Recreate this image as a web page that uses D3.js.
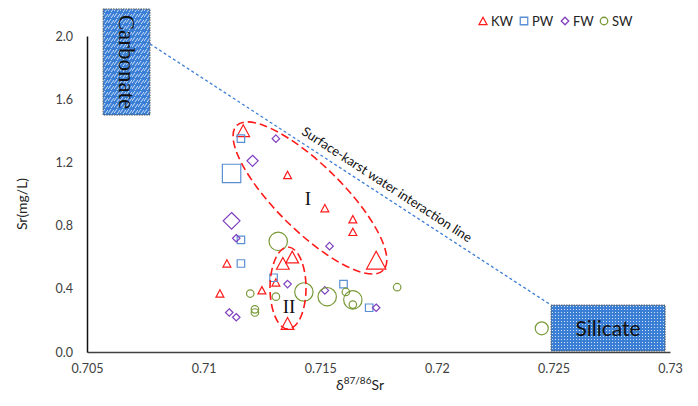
<!DOCTYPE html>
<html>
<head>
<meta charset="utf-8">
<script src="https://cdn.jsdelivr.net/npm/d3@7"></script>
<style>
  html, body { margin: 0; padding: 0; background: #fff; }
  #chart { width: 698px; height: 406px; }
  svg { font-family: Lato, "Open Sans", sans-serif; }
</style>
</head>
<body>
<div id="chart"></div>
<script>
// ---- data ----
// marker size: relative magnitude (1 = small, ~2.6 = medium, ~6 = large)
const kwX = [0.7117, 0.7136, 0.7152, 0.7164, 0.7164, 0.7174, 0.7138, 0.7134, 0.7110, 0.7131, 0.7125, 0.7107, 0.7136];
const kwY = [1.40, 1.12, 0.91, 0.84, 0.76, 0.58, 0.60, 0.56, 0.56, 0.44, 0.39, 0.37, 0.18];
const kwS = [2.6, 1, 1, 1, 1, 6, 2.6, 2.6, 1, 1, 1, 1, 2.6];

const pwX = [0.7116, 0.7112, 0.7116, 0.7116, 0.7130, 0.7160, 0.7171];
const pwY = [1.35, 1.13, 0.71, 0.56, 0.47, 0.43, 0.28];
const pwS = [1, 6, 1, 1, 1, 1, 1];

const fwX = [0.7131, 0.7121, 0.7112, 0.7114, 0.7154, 0.7136, 0.7152, 0.7174, 0.7111, 0.7114];
const fwY = [1.35, 1.21, 0.83, 0.72, 0.67, 0.43, 0.39, 0.28, 0.25, 0.22];
const fwS = [1, 2.2, 5, 1, 1, 1, 1, 1, 1, 1];

const swX = [0.7132, 0.7120, 0.7131, 0.7143, 0.7153, 0.7161, 0.7164, 0.7164, 0.7183, 0.7122, 0.7122, 0.7245];
const swY = [0.70, 0.37, 0.35, 0.38, 0.35, 0.38, 0.33, 0.30, 0.41, 0.27, 0.25, 0.15];
const swS = [6, 1, 1, 6, 6, 1, 6, 1, 1, 1, 1, 3];

const seriesNames = ['KW', 'PW', 'FW', 'SW'];
const xTicks = [0.705, 0.71, 0.715, 0.72, 0.725, 0.73];
const yTicks = [0, 0.4, 0.8, 1.2, 1.6, 2.0];

// end members and mixing line
const carbonateBox = [[0.70569, 2.171], [0.7077, 1.50]];
const silicateBox = [[0.7249, 0.297], [0.72979, 0.006]];
const mixLine = [[0.7077, 1.95], [0.7249, 0.297]];

// group ellipses: centre in data units
const groupI = { cx: 0.71456, cy: 0.975, label: 'I' };
const groupII = { cx: 0.71362, cy: 0.405, label: 'II' };

(function () {
  const W = 698, H = 406;
  const margin = { top: 36, right: 28, bottom: 54, left: 87 };
  const SERIF = '"Liberation Serif", "DejaVu Serif", serif';
  const COLORS = {
    KW: '#ff1a1a', PW: '#5b8fd3', FW: '#7f3fbf', SW: '#7a9a3a',
    axis: '#404040', text: '#404040', line: '#3f7fd6', box: '#3a7fd5'
  };

  const svg = d3.select('#chart').append('svg')
    .attr('width', W).attr('height', H).attr('viewBox', `0 0 ${W} ${H}`);

  const defs = svg.append('defs');
  const hatch = defs.append('pattern').attr('id', 'hatch').attr('patternUnits', 'userSpaceOnUse')
    .attr('width', 6).attr('height', 6);
  hatch.append('rect').attr('width', 6).attr('height', 6).attr('fill', COLORS.box);
  hatch.append('path').attr('d', 'M0,5 L3,1 M3,6 L6,2').attr('stroke', '#dce9f8').attr('stroke-width', 0.9);
  const dots = defs.append('pattern').attr('id', 'dots').attr('patternUnits', 'userSpaceOnUse')
    .attr('width', 3).attr('height', 3);
  dots.append('rect').attr('width', 3).attr('height', 3).attr('fill', COLORS.box);
  dots.append('rect').attr('width', 1).attr('height', 1).attr('fill', '#cfe0f5');

  const x = d3.scaleLinear().domain([0.705, 0.73]).range([margin.left, W - margin.right]);
  const y = d3.scaleLinear().domain([0, 2.0]).range([H - margin.bottom, margin.top]);

  // ---- axes ----
  const xAxisG = svg.append('g').attr('transform', `translate(0,${y(0)})`)
    .call(d3.axisBottom(x).tickValues(xTicks).tickSize(0).tickPadding(12)
      .tickFormat(d => String(+d.toFixed(3))));
  const yAxisG = svg.append('g').attr('transform', `translate(${x(0.705)},0)`)
    .call(d3.axisLeft(y).tickValues(yTicks).tickSize(0).tickPadding(14).tickFormat(d3.format('.1f')));
  [xAxisG, yAxisG].forEach(a => {
    a.attr('font-family', null);
    a.selectAll('text').attr('fill', COLORS.text).attr('font-size', '12.5px');
    a.select('.domain').attr('stroke', COLORS.axis).attr('stroke-width', 1.5);
  });
  yAxisG.select('.domain').attr('stroke', '#111');

  const xt = svg.append('text').attr('x', 360).attr('y', 390).attr('text-anchor', 'middle')
    .attr('fill', '#222').attr('font-size', '14px');
  xt.append('tspan').text('δ');
  xt.append('tspan').attr('dy', -6).attr('font-size', '10px').text('87/86');
  xt.append('tspan').attr('dy', 6).text('Sr');

  svg.append('text').attr('transform', 'translate(27,204) rotate(-90)').attr('text-anchor', 'middle')
    .attr('fill', '#222').attr('font-size', '14px').text('Sr(mg/L)');

  // ---- end-member boxes ----
  const boxRect = (b, fill) => svg.append('rect')
    .attr('x', x(b[0][0])).attr('y', y(b[0][1]))
    .attr('width', x(b[1][0]) - x(b[0][0])).attr('height', y(b[1][1]) - y(b[0][1]))
    .attr('fill', fill).attr('stroke', '#555').attr('stroke-width', 1).attr('stroke-dasharray', '1.5,1');
  boxRect(carbonateBox, 'url(#hatch)');
  boxRect(silicateBox, 'url(#dots)');

  const cbx = (x(carbonateBox[0][0]) + x(carbonateBox[1][0])) / 2;
  const cby = (y(carbonateBox[0][1]) + y(carbonateBox[1][1])) / 2;
  svg.append('text').attr('transform', `translate(${cbx},${cby}) rotate(90)`)
    .attr('text-anchor', 'middle').attr('dy', '0.33em')
    .attr('font-family', SERIF).attr('font-size', '23px').attr('fill', '#111')
    .text('Carbonate');
  const sbx = (x(silicateBox[0][0]) + x(silicateBox[1][0])) / 2;
  const sby = (y(silicateBox[0][1]) + y(silicateBox[1][1])) / 2;
  svg.append('text').attr('x', sbx).attr('y', sby).attr('dy', '0.36em').attr('text-anchor', 'middle')
    .attr('font-size', '21px').attr('fill', '#111').text('Silicate');

  // ---- mixing line ----
  svg.append('path').datum(mixLine)
    .attr('d', d3.line().x(d => x(d[0])).y(d => y(d[1])))
    .attr('fill', 'none').attr('stroke', COLORS.line).attr('stroke-width', 1.3).attr('stroke-dasharray', '3,2.5');
  const lx0 = x(mixLine[0][0]), ly0 = y(mixLine[0][1]), lx1 = x(mixLine[1][0]), ly1 = y(mixLine[1][1]);
  const ang = Math.atan2(ly1 - ly0, lx1 - lx0) * 180 / Math.PI;
  const t = 0.575;
  svg.append('text')
    .attr('transform', `translate(${lx0 + (lx1 - lx0) * t},${ly0 + (ly1 - ly0) * t}) rotate(${ang}) translate(0,-7)`)
    .attr('text-anchor', 'middle').attr('font-size', '13px').attr('fill', '#111')
    .text('Surface-karst water interaction line');

  // ---- marker shapes ----
  const size = d3.scaleSqrt().domain([0, 1]).range([0, 7.5]);
  function shape(type, w) {
    const h = w / 2;
    if (type === 'KW') return `M0,${-h}L${h * 1.05},${h * 0.95}L${-h * 1.05},${h * 0.95}Z`;
    if (type === 'PW') return `M${-h},${-h}H${h}V${h}H${-h}Z`;
    if (type === 'FW') return `M0,${-h}L${h},0L0,${h}L${-h},0Z`;
    return d3.arc()({ innerRadius: 0, outerRadius: h, startAngle: 0, endAngle: 2 * Math.PI });
  }

  const series = [
    { name: 'KW', xs: kwX, ys: kwY, ss: kwS },
    { name: 'PW', xs: pwX, ys: pwY, ss: pwS },
    { name: 'FW', xs: fwX, ys: fwY, ss: fwS },
    { name: 'SW', xs: swX, ys: swY, ss: swS },
  ];

  series.forEach(s => {
    const pts = s.xs.map((v, i) => ({ x: v, y: s.ys[i], s: s.ss[i] }));
    svg.append('g').selectAll('path').data(pts).join('path')
      .attr('transform', d => `translate(${x(d.x)},${y(d.y)})`)
      .attr('d', d => shape(s.name, size(d.s)))
      .attr('fill', 'none').attr('stroke', COLORS[s.name]).attr('stroke-width', 1.2);
  });

  // ---- group ellipses ----
  svg.append('ellipse')
    .attr('transform', `translate(${x(groupI.cx)},${y(groupI.cy)}) rotate(44.6)`)
    .attr('rx', 103).attr('ry', 33)
    .attr('fill', 'none').attr('stroke', '#ff1a1a').attr('stroke-width', 1.6).attr('stroke-dasharray', '8,4');
  svg.append('ellipse')
    .attr('cx', x(groupII.cx)).attr('cy', y(groupII.cy)).attr('rx', 18).attr('ry', 41)
    .attr('fill', 'none').attr('stroke', '#ff1a1a').attr('stroke-width', 1.6).attr('stroke-dasharray', '8,4');
  svg.append('text').attr('x', x(groupI.cx) - 2).attr('y', y(groupI.cy)).attr('dy', '0.35em')
    .attr('text-anchor', 'middle').attr('font-family', SERIF).attr('font-size', '19px')
    .attr('fill', '#111').text(groupI.label);
  svg.append('text').attr('x', x(groupII.cx) + 1).attr('y', y(groupII.cy) + 18).attr('dy', '0.35em')
    .attr('text-anchor', 'middle').attr('font-family', SERIF).attr('font-size', '19px')
    .attr('fill', '#111').text(groupII.label);

  // ---- legend ----
  const legX = [483, 524, 565, 604];
  const leg = svg.append('g').attr('transform', 'translate(0,21)');
  seriesNames.forEach((n, i) => {
    leg.append('path').attr('transform', `translate(${legX[i]},0)`).attr('d', shape(n, 7.5))
      .attr('fill', 'none').attr('stroke', COLORS[n]).attr('stroke-width', 1.3);
    leg.append('text').attr('x', legX[i] + 8).attr('dy', '0.35em').attr('font-size', '13px')
      .attr('fill', '#222').text(n);
  });
})();
</script>
</body>
</html>
